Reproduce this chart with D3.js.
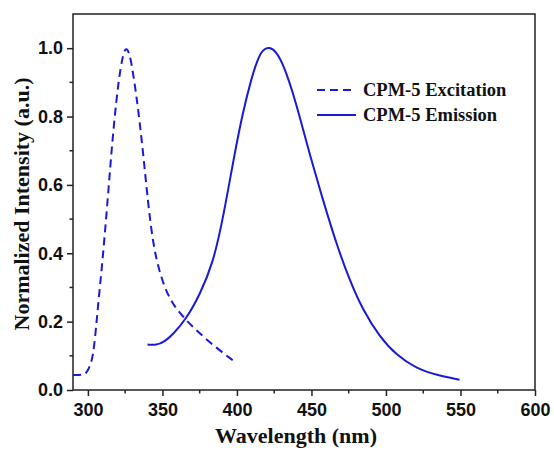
<!DOCTYPE html>
<html>
<head>
<meta charset="utf-8">
<script src="https://cdn.jsdelivr.net/npm/d3@7"></script>
<style>
  html, body { margin: 0; padding: 0; background: #fff; }
  svg { display: block; }
</style>
</head>
<body>
<svg id="chart" width="554" height="452"></svg>
<script>
// Excitation spectrum (dashed)
const excitationWl = [290, 297, 299, 301.5, 303.4, 305, 306.7, 310.1, 313.4, 315.7, 317.2, 319.0, 320.8, 323.1, 325.3, 328.0, 330.2, 332.5, 334.7, 336.9, 340.3, 343.6, 348.1, 354.8, 363.7, 372.7, 383.9, 398.4];
const excitationI  = [0.044, 0.044, 0.05, 0.07, 0.10, 0.16, 0.243, 0.39, 0.565, 0.69, 0.764, 0.842, 0.91, 0.972, 1.005, 0.986, 0.93, 0.862, 0.784, 0.70, 0.55, 0.43, 0.341, 0.263, 0.214, 0.175, 0.131, 0.083];

// Emission spectrum (solid)
const emissionWl = [340, 345.9, 351, 357, 366, 375, 383.9, 390.6, 398.4, 404, 409.6, 414, 417.4, 421.6, 426.4, 430.8, 435.3, 439.8, 444.3, 448.8, 457.7, 466.7, 475.6, 484.5, 495.7, 507, 520.4, 534, 549.4];
const emissionI  = [0.133, 0.131, 0.14, 0.162, 0.208, 0.278, 0.37, 0.50, 0.691, 0.813, 0.91, 0.969, 0.996, 1.004, 0.99, 0.954, 0.90, 0.836, 0.764, 0.690, 0.556, 0.428, 0.321, 0.234, 0.156, 0.102, 0.063, 0.044, 0.03];

const xMajorTicks = [300, 350, 400, 450, 500, 550, 600];
const xMinorTicks = [325, 375, 425, 475, 525, 575];
const yMajorTicks = [0, 0.2, 0.4, 0.6, 0.8, 1.0];
const yMinorTicks = [0.1, 0.3, 0.5, 0.7, 0.9];

const seriesNames = ["CPM-5 Excitation", "CPM-5 Emission"];

const lineColor = "#1a1ad6";
const axisColor = "#222";

const svg = d3.select("#chart");
const margin = { left: 73, right: 19, top: 14, bottom: 62 };
const W = 554, H = 452;

const x = d3.scaleLinear().domain([290, 600]).range([margin.left, W - margin.right]);
const y = d3.scaleLinear().domain([0, 1.1]).range([H - margin.bottom, margin.top]);

const tickFont = "'Liberation Sans', Arial, sans-serif";
const titleFont = "'Liberation Serif', 'Times New Roman', serif";

// Frame
svg.append("rect")
  .attr("x", x(290)).attr("y", y(1.1))
  .attr("width", x(600) - x(290)).attr("height", y(0) - y(1.1))
  .attr("fill", "none").attr("stroke", axisColor).attr("stroke-width", 1.5);

// X axis
const xAxis = svg.append("g")
  .attr("transform", `translate(0,${y(0)})`)
  .call(d3.axisBottom(x).tickValues(xMajorTicks).tickSize(6).tickPadding(7).tickFormat(d3.format("d")));
xAxis.select(".domain").remove();
xAxis.selectAll(".tick line").attr("stroke", axisColor).attr("stroke-width", 1.5);
xAxis.selectAll(".tick text")
  .attr("fill", "#111").style("font-family", tickFont).style("font-weight", "bold").style("font-size", "18px");

svg.append("g").selectAll("line").data(xMinorTicks).join("line")
  .attr("x1", d => x(d)).attr("x2", d => x(d))
  .attr("y1", y(0)).attr("y2", y(0) + 3.5)
  .attr("stroke", axisColor).attr("stroke-width", 1.5);

// Y axis
const yAxis = svg.append("g")
  .attr("transform", `translate(${x(290)},0)`)
  .call(d3.axisLeft(y).tickValues(yMajorTicks).tickSize(6).tickPadding(4).tickFormat(d3.format(".1f")));
yAxis.select(".domain").remove();
yAxis.selectAll(".tick line").attr("stroke", axisColor).attr("stroke-width", 1.5);
yAxis.selectAll(".tick text")
  .attr("fill", "#111").style("font-family", tickFont).style("font-weight", "bold").style("font-size", "18px");

svg.append("g").selectAll("line").data(yMinorTicks).join("line")
  .attr("x1", x(290) - 3.5).attr("x2", x(290))
  .attr("y1", d => y(d)).attr("y2", d => y(d))
  .attr("stroke", axisColor).attr("stroke-width", 1.5);

// Axis titles
svg.append("text")
  .attr("x", (x(290) + x(600)) / 2 - 8).attr("y", 443)
  .attr("text-anchor", "middle")
  .style("font-family", titleFont).style("font-weight", "bold").style("font-size", "22px")
  .attr("fill", "#111")
  .text("Wavelength (nm)");

svg.append("text")
  .attr("transform", "translate(28.5,204) rotate(-90)")
  .attr("text-anchor", "middle")
  .style("font-family", titleFont).style("font-weight", "bold").style("font-size", "22px")
  .attr("fill", "#111")
  .text("Normalized Intensity (a.u.)");

// Spectra (B-spline through the sampled points)
const line = d3.line()
  .x(d => x(d[0])).y(d => y(d[1]))
  .curve(d3.curveBasis);

const excitation = excitationWl.map((w, i) => [w, excitationI[i]]);
const emission = emissionWl.map((w, i) => [w, emissionI[i]]);

svg.append("path").datum(excitation)
  .attr("d", line).attr("fill", "none")
  .attr("stroke", lineColor).attr("stroke-width", 2)
  .attr("stroke-dasharray", "8,5");

svg.append("path").datum(emission)
  .attr("d", line).attr("fill", "none")
  .attr("stroke", lineColor).attr("stroke-width", 2);

// Legend
const legend = svg.append("g");
const legendRows = [
  { name: seriesNames[0], dash: "8,5", y: 90 },
  { name: seriesNames[1], dash: null, y: 115 }
];
legendRows.forEach(r => {
  legend.append("line")
    .attr("x1", 317).attr("x2", 356).attr("y1", r.y).attr("y2", r.y)
    .attr("stroke", lineColor).attr("stroke-width", 2)
    .attr("stroke-dasharray", r.dash);
  legend.append("text")
    .attr("x", 363).attr("y", r.y + 6)
    .style("font-family", titleFont).style("font-weight", "bold").style("font-size", "18.5px")
    .attr("fill", "#111")
    .text(r.name);
});
</script>
</body>
</html>
